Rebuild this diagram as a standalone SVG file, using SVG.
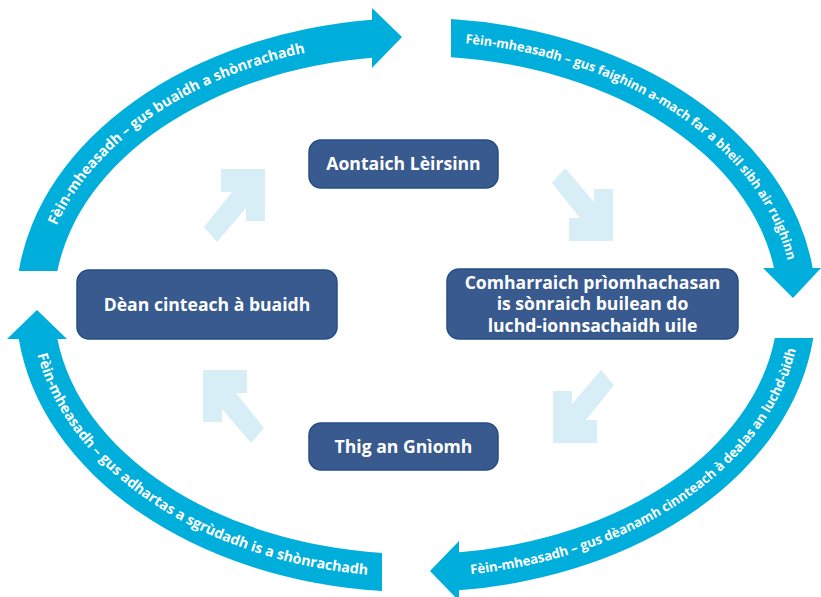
<svg xmlns="http://www.w3.org/2000/svg" width="821" height="597" viewBox="0 0 821 597">
<defs>
<style>
.band{fill:#00aedb}
.lbl{font-family:"Open Sans","Liberation Sans",sans-serif;font-weight:700;fill:#ffffff}
.box{fill:#385a8f;stroke:#244d85;stroke-width:1.5}
.bt{font-family:"Open Sans","Liberation Sans",sans-serif;font-weight:700;font-size:17.6px;fill:#ffffff;text-anchor:middle}
.step{fill:#d7eef7}
</style>
<path id="stepArrow" d="M-44,0 L0,0 L0,52 L-19,52 L-19,39 L-48,73 L-61,58 L-33,23 L-44,23 Z"/>
<path id="pTL" d="M56.5,225.6 A377 264 0 0 1 383.1,42"/>
<path id="pTR" d="M465.2,43.3 A377 264 0 0 1 792.8,295.8"/>
<path id="pBR" d="M470.9,574.2 A385 272 0 0 0 800.5,319.2"/>
<path id="pBL" d="M37.4,354.6 A385 272 0 0 0 402.6,576.8"/>
</defs>
<rect width="821" height="597" fill="#ffffff"/>
<g id="connectors">
<path class="band" d="M18.8,271 A400 287 0 0 1 372,19.7 L372,8 L402,37 L372,68 L372,57.8 A362 249 0 0 0 57.4,271 Z"/>
<path class="band" d="M451,19.1 A400 287 0 0 1 812.7,268 L821,268 L793,298 L763,268 L774,268 A362 249 0 0 0 451,57.2 Z"/>
<path class="band" d="M813.3,338 A400 287 0 0 1 459,590.3 L459,601 L430,571 L459,541 L459,552.2 A362 249 0 0 0 774.8,338 Z"/>
<path class="band" d="M382,591 A400 287 0 0 1 18.8,339 L7,339 L37,310 L67,339 L57.4,339 A362 249 0 0 0 382,552.9 Z"/>
<text class="lbl" font-size="14.4"><textPath href="#pTL" textLength="314" lengthAdjust="spacing">Fèin-mheasadh – gus buaidh a shònrachadh</textPath></text>
<text class="lbl" font-size="12.8"><textPath href="#pTR" textLength="413" lengthAdjust="spacing">Fèin-mheasadh – gus faighinn a-mach far a bheil sibh air ruighinn</textPath></text>
<text class="lbl" font-size="13.25"><textPath href="#pBR" textLength="420" lengthAdjust="spacing">Fèin-mheasadh – gus dèanamh cinnteach à dealas an luchd-ùidh</textPath></text>
<text class="lbl" font-size="14.3"><textPath href="#pBL" textLength="421" lengthAdjust="spacing">Fèin-mheasadh – gus adhartas a sgrùdadh is a shònrachadh</textPath></text>
<use href="#stepArrow" class="step" transform="translate(265,169)"/>
<use href="#stepArrow" class="step" transform="translate(613,241) scale(1,-1)"/>
<use href="#stepArrow" class="step" transform="translate(553,443) scale(-1,-1)"/>
<use href="#stepArrow" class="step" transform="translate(203,370) scale(-1,1)"/>
</g>
<g id="node-aontaich">
<rect class="box" x="309" y="140" width="189" height="48" rx="12"/>
<text class="bt" x="403.5" y="170">Aontaich Lèirsinn</text>
</g>
<g id="node-comharraich">
<rect class="box" x="447" y="269" width="291" height="70" rx="12"/>
<text class="bt"><tspan x="592.5" y="288.5">Comharraich prìomhachasan</tspan><tspan x="592.5" y="310">is sònraich builean do</tspan><tspan x="592.5" y="331.5">luchd-ionnsachaidh uile</tspan></text>
</g>
<g id="node-thig">
<rect class="box" x="309" y="423" width="189" height="47" rx="12"/>
<text class="bt" x="403.5" y="452.5">Thig an Gnìomh</text>
</g>
<g id="node-dean">
<rect class="box" x="77" y="270" width="260" height="69" rx="12"/>
<text class="bt" x="207" y="310.5">Dèan cinteach à buaidh</text>
</g>
</svg>
